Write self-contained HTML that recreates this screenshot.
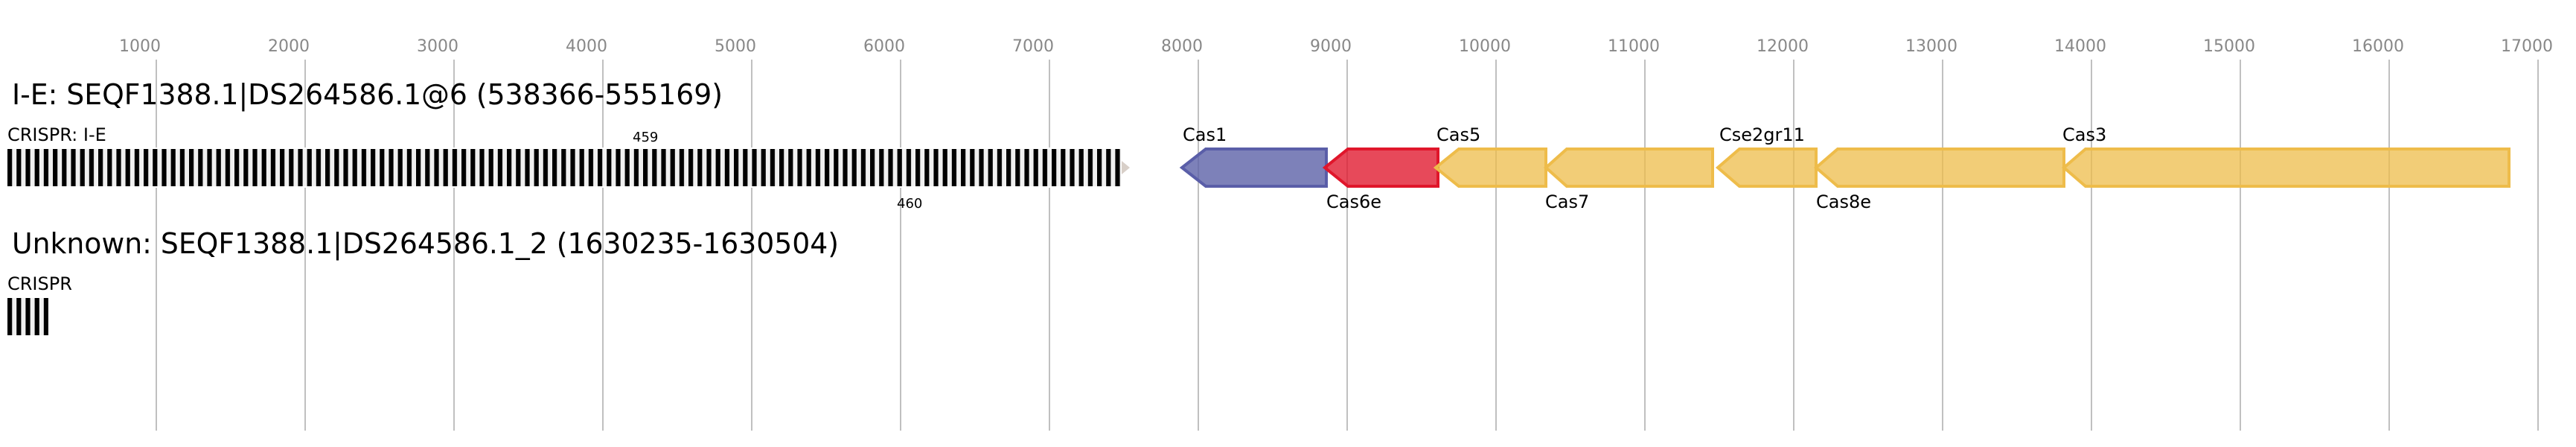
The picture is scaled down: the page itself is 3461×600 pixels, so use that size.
<!DOCTYPE html>
<html><head><meta charset="utf-8"><style>
html,body{margin:0;padding:0;background:#fff;}
svg{display:block;}
text{font-family:"DejaVu Sans","Liberation Sans",sans-serif;}
</style></head><body>
<svg width="3461" height="600" viewBox="0 0 3461 600" xmlns="http://www.w3.org/2000/svg">
<defs>
<pattern id="bars" x="10" y="0" width="12.2" height="600" patternUnits="userSpaceOnUse">
<rect x="0" y="0" width="12.2" height="600" fill="#f0f0f0"/>
<rect x="0" y="0" width="6.2" height="600" fill="#000"/>
</pattern>
</defs>
<g stroke="#c0c0c0" stroke-width="2">
<line x1="210" y1="80" x2="210" y2="578"/>
<line x1="410" y1="80" x2="410" y2="578"/>
<line x1="610" y1="80" x2="610" y2="578"/>
<line x1="810" y1="80" x2="810" y2="578"/>
<line x1="1010" y1="80" x2="1010" y2="578"/>
<line x1="1210" y1="80" x2="1210" y2="578"/>
<line x1="1410" y1="80" x2="1410" y2="578"/>
<line x1="1610" y1="80" x2="1610" y2="578"/>
<line x1="1810" y1="80" x2="1810" y2="578"/>
<line x1="2010" y1="80" x2="2010" y2="578"/>
<line x1="2210" y1="80" x2="2210" y2="578"/>
<line x1="2410" y1="80" x2="2410" y2="578"/>
<line x1="2610" y1="80" x2="2610" y2="578"/>
<line x1="2810" y1="80" x2="2810" y2="578"/>
<line x1="3010" y1="80" x2="3010" y2="578"/>
<line x1="3210" y1="80" x2="3210" y2="578"/>
<line x1="3410" y1="80" x2="3410" y2="578"/>
</g>
<g fill="#888" font-size="22" text-anchor="middle">
<text x="188" y="69">1000</text>
<text x="388" y="69">2000</text>
<text x="588" y="69">3000</text>
<text x="788" y="69">4000</text>
<text x="988" y="69">5000</text>
<text x="1188" y="69">6000</text>
<text x="1388" y="69">7000</text>
<text x="1588" y="69">8000</text>
<text x="1788" y="69">9000</text>
<text x="1995" y="69">10000</text>
<text x="2195" y="69">11000</text>
<text x="2395" y="69">12000</text>
<text x="2595" y="69">13000</text>
<text x="2795" y="69">14000</text>
<text x="2995" y="69">15000</text>
<text x="3195" y="69">16000</text>
<text x="3395" y="69">17000</text>
</g>
<text x="16" y="140" font-size="38" fill="#000" textLength="955" lengthAdjust="spacingAndGlyphs">I-E: SEQF1388.1|DS264586.1@6 (538366-555169)</text>
<text x="10" y="189" font-size="24" fill="#000">CRISPR: I-E</text>
<rect x="10" y="198" width="1496" height="54" fill="#fff"/>
<rect x="10" y="200" width="1496" height="50" fill="url(#bars)"/>
<polygon points="1507,216 1518,225 1507,234" fill="#d8cfc8"/>
<text x="850" y="190" font-size="18" fill="#000">459</text>
<text x="1205" y="279" font-size="18" fill="#000">460</text>

<g stroke-width="4" stroke-linejoin="miter">
<polygon points="1620,200 1782,200 1782,250 1620,250 1588,225" fill="rgba(93,97,168,0.8)" stroke="#5a5ea8"/>
<polygon points="1811,200 1932,200 1932,250 1811,250 1780,225" fill="rgba(224,22,43,0.78)" stroke="#e0162b"/>
<polygon points="1960,200 2077,200 2077,250 1960,250 1929,225" fill="rgba(238,188,74,0.75)" stroke="#eebc4a"/>
<polygon points="2105,200 2301,200 2301,250 2105,250 2077,225" fill="rgba(238,188,74,0.75)" stroke="#eebc4a"/>
<polygon points="2337,200 2440,200 2440,250 2337,250 2308,225" fill="rgba(238,188,74,0.75)" stroke="#eebc4a"/>
<polygon points="2469,200 2773,200 2773,250 2469,250 2440,225" fill="rgba(238,188,74,0.75)" stroke="#eebc4a"/>
<polygon points="2802,200 3371,200 3371,250 2802,250 2773,225" fill="rgba(238,188,74,0.75)" stroke="#eebc4a"/>
</g>
<g font-size="24" fill="#000">
<text x="1589" y="189">Cas1</text>
<text x="1782" y="279">Cas6e</text>
<text x="1930" y="189">Cas5</text>
<text x="2076" y="279">Cas7</text>
<text x="2310" y="189">Cse2gr11</text>
<text x="2440" y="279">Cas8e</text>
<text x="2771" y="189">Cas3</text>
</g>

<text x="16" y="340" font-size="38" fill="#000" textLength="1111" lengthAdjust="spacingAndGlyphs">Unknown: SEQF1388.1|DS264586.1_2 (1630235-1630504)</text>
<text x="10" y="389" font-size="24" fill="#000">CRISPR</text>
<rect x="10" y="400" width="55" height="50" fill="url(#bars)"/>
</svg>
</body></html>
